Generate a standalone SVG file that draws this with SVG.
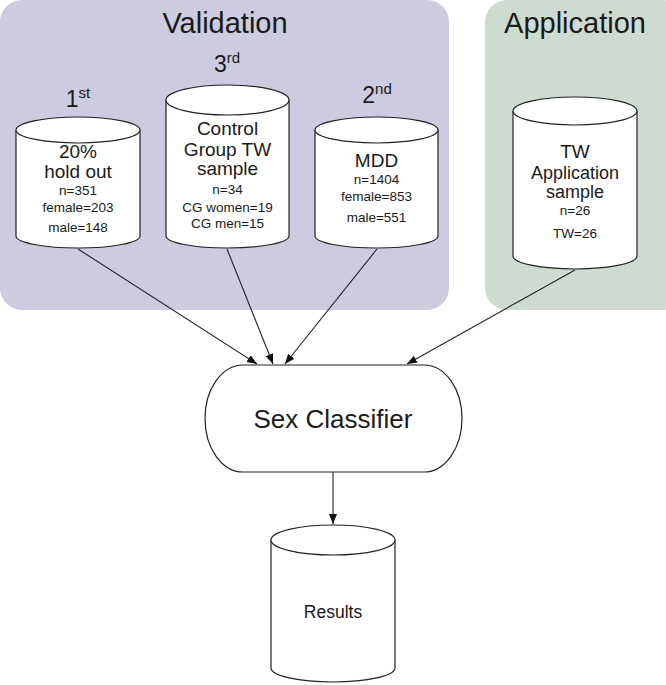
<svg xmlns="http://www.w3.org/2000/svg" width="666" height="685" viewBox="0 0 666 685">
<style>
text{font-family:"Liberation Sans",Arial,sans-serif;fill:#1a1a1a;text-anchor:middle}
.cyl{fill:#fff;stroke:#222;stroke-width:1.2}
.t19{font-size:19px}
.t18{font-size:18px}
.t14{font-size:13.5px}
.hd{font-size:29px}
.ord{font-size:23px}
.sup{font-size:15px}
.edge{stroke:#222;stroke-width:1.1;fill:none;marker-end:url(#ah)}
</style>
<defs>
<marker id="ah" viewBox="0 0 10 10" refX="10" refY="5" markerWidth="10" markerHeight="10" markerUnits="userSpaceOnUse" orient="auto">
<path d="M0,1 L10,5 L0,9 z" fill="#111"/>
</marker>
</defs>
<g id="validation-panel">
<rect x="0" y="0" width="449" height="310" rx="22" fill="#cccbe0"/>
<text class="hd" x="225" y="33">Validation</text>
</g>
<g id="application-panel">
<rect x="485" y="0" width="200" height="310" rx="22" fill="#cedbd1"/>
<text class="hd" x="575" y="33">Application</text>
</g>
<g id="holdout">
<text class="ord" x="78" y="107">1<tspan class="sup" dy="-9">st</tspan></text>
<path class="cyl" d="M16,130 A62,13 0 0 1 140,130 L140,236 A62,12 0 0 1 16,236 Z"/>
<path class="cyl" fill="none" d="M16,130 A62,13 0 0 0 140,130"/>
<text class="t19" x="78" y="158">20%</text>
<text class="t19" x="78" y="178">hold out</text>
<text class="t14" x="78" y="195">n=351</text>
<text class="t14" x="78" y="212">female=203</text>
<text class="t14" x="78" y="232">male=148</text>
</g>
<g id="control">
<text class="ord" x="227" y="72">3<tspan class="sup" dy="-9">rd</tspan></text>
<path class="cyl" d="M166,100 A61.5,15 0 0 1 289,100 L289,236 A61.5,12 0 0 1 166,236 Z"/>
<path class="cyl" fill="none" d="M166,100 A61.5,15 0 0 0 289,100"/>
<text class="t19" x="227.5" y="135">Control</text>
<text class="t19" x="227.5" y="156">Group TW</text>
<text class="t19" x="227.5" y="175">sample</text>
<text class="t14" x="227.5" y="194">n=34</text>
<text class="t14" x="227.5" y="212">CG women=19</text>
<text class="t14" x="227.5" y="228">CG men=15</text>
</g>
<g id="mdd">
<text class="ord" x="377" y="103">2<tspan class="sup" dy="-9">nd</tspan></text>
<path class="cyl" d="M315,130 A61.5,13 0 0 1 438,130 L438,236 A61.5,12 0 0 1 315,236 Z"/>
<path class="cyl" fill="none" d="M315,130 A61.5,13 0 0 0 438,130"/>
<text class="t19" x="376.5" y="167">MDD</text>
<text class="t14" x="376.5" y="184">n=1404</text>
<text class="t14" x="376.5" y="201">female=853</text>
<text class="t14" x="376.5" y="222">male=551</text>
</g>
<g id="tw-application">
<path class="cyl" d="M513,111 A62,14 0 0 1 637,111 L637,256 A62,13 0 0 1 513,256 Z"/>
<path class="cyl" fill="none" d="M513,111 A62,14 0 0 0 637,111"/>
<text class="t19" x="575" y="158">TW</text>
<text class="t18" x="575" y="179">Application</text>
<text class="t18" x="575" y="198">sample</text>
<text class="t14" x="575" y="215">n=26</text>
<text class="t14" x="575" y="238">TW=26</text>
</g>
<g id="connectors">
<line class="edge" x1="78" y1="249" x2="257" y2="364"/>
<line class="edge" x1="227" y1="249" x2="273" y2="364"/>
<line class="edge" x1="377" y1="249" x2="285" y2="364"/>
<line class="edge" x1="575" y1="270" x2="407" y2="364"/>
<line class="edge" x1="333" y1="472" x2="333" y2="524"/>
</g>
<g id="sex-classifier">
<path class="cyl" d="M243,365 L424,365 A38,53.5 0 0 1 424,472 L243,472 A38,53.5 0 0 1 243,365 Z"/>
<text x="333" y="428" style="font-size:26px">Sex Classifier</text>
</g>
<g id="results">
<path class="cyl" d="M271,540 A62,15 0 0 1 395,540 L395,668 A62,14 0 0 1 271,668 Z"/>
<path class="cyl" fill="none" d="M271,540 A62,15 0 0 0 395,540"/>
<text x="333" y="618" style="font-size:17.5px">Results</text>
</g>
</svg>
